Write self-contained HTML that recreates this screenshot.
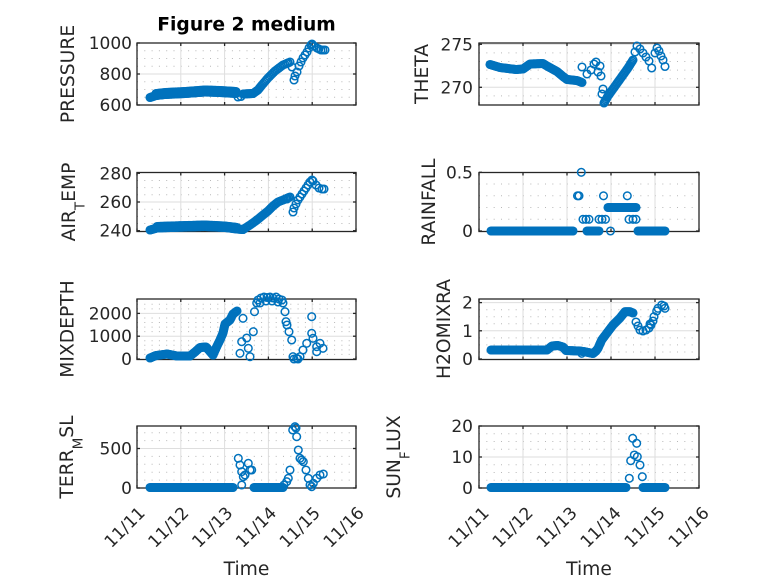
<!DOCTYPE html>
<html><head><meta charset="utf-8">
<style>
html,body{margin:0;padding:0;background:#fff;}
svg{display:block;}
text{font-family:"DejaVu Sans","Liberation Sans",sans-serif;fill:#262626;}
.tk{font-size:17px;}
.lb{font-size:18.7px;}
.sb{font-size:13.5px;}
</style></head><body>
<svg id="s" width="778" height="583" viewBox="0 0 778 583" xmlns="http://www.w3.org/2000/svg">
<rect width="778" height="583" fill="#fff"/>
<g id="grid"></g>
<g id="box" fill="none" stroke="#262626" stroke-width="1.3"></g>
<g id="data" fill="none" stroke="#0072BD" stroke-width="1.5"></g>

<text x="246.5" y="30.5" text-anchor="middle" style="font-size:18.7px;font-weight:bold;fill:#000">Figure 2 medium</text>

<!-- y tick labels -->
<g class="tk" text-anchor="end">
<text x="132" y="49">1000</text><text x="132" y="80">800</text><text x="132" y="111">600</text>
<text x="132" y="179.3">280</text><text x="132" y="208">260</text><text x="132" y="236.7">240</text>
<text x="132" y="319.4">2000</text><text x="132" y="342.2">1000</text><text x="132" y="365">0</text>
<text x="132" y="454.5">500</text><text x="132" y="494">0</text>
<text x="473" y="50.3">275</text><text x="473" y="93.3">270</text>
<text x="473" y="178.3">0.5</text><text x="473" y="237">0</text>
<text x="473" y="308.6">2</text><text x="473" y="336.8">1</text><text x="473" y="365">0</text>
<text x="473" y="432">20</text><text x="473" y="463">10</text><text x="473" y="494">0</text>
</g>

<!-- x tick labels -->
<g class="tk" text-anchor="end">
<text transform="translate(146,514) rotate(-45)">11/11</text>
<text transform="translate(189.8,514) rotate(-45)">11/12</text>
<text transform="translate(233.6,514) rotate(-45)">11/13</text>
<text transform="translate(277.4,514) rotate(-45)">11/14</text>
<text transform="translate(321.2,514) rotate(-45)">11/15</text>
<text transform="translate(365,514) rotate(-45)">11/16</text>
<text transform="translate(490,514) rotate(-45)">11/11</text>
<text transform="translate(534,514) rotate(-45)">11/12</text>
<text transform="translate(578,514) rotate(-45)">11/13</text>
<text transform="translate(622,514) rotate(-45)">11/14</text>
<text transform="translate(666,514) rotate(-45)">11/15</text>
<text transform="translate(710,514) rotate(-45)">11/16</text>
</g>

<!-- axis labels -->
<g class="lb" text-anchor="middle">
<text x="246.5" y="575">Time</text>
<text x="589" y="575">Time</text>
<text transform="translate(74,74) rotate(-90)">PRESSURE</text>
<text transform="translate(75,202) rotate(-90)">AIR<tspan class="sb" dy="9.5">T</tspan><tspan dy="-9.5">EMP</tspan></text>
<text transform="translate(73.5,329) rotate(-90)">MIXDEPTH</text>
<text transform="translate(73,457) rotate(-90)">TERR<tspan class="sb" dy="9.5">M</tspan><tspan dy="-9.5">SL</tspan></text>
<text transform="translate(428,74) rotate(-90)">THETA</text>
<text transform="translate(435,202) rotate(-90)">RAINFALL</text>
<text transform="translate(450,329) rotate(-90)">H2OMIXRA</text>
<text transform="translate(400,457) rotate(-90)">SUN<tspan class="sb" dy="9.5">F</tspan><tspan dy="-9.5">LUX</tspan></text>
</g>
</svg>
<script>
(function(){
var NS="http://www.w3.org/2000/svg";
var G=document.getElementById('grid'),B=document.getElementById('box'),D=document.getElementById('data');
function el(p,tag,a){var e=document.createElementNS(NS,tag);for(var k in a)e.setAttribute(k,a[k]);p.appendChild(e);return e;}
var P=[
 {x0:137,x1:356,y0:43,y1:105,yt:[43,74,105],ym:[50.75,58.5,66.25,81.75,89.5,97.25]},
 {x0:479,x1:699,y0:43,y1:105,yt:[44.3,87.3],ym:[52.9,61.5,70.1,78.7,95.9]},
 {x0:137,x1:356,y0:172.5,y1:231.5,yt:[173.3,202,230.7],ym:[180.5,187.65,194.8,209.2,216.35,223.5]},
 {x0:479,x1:699,y0:172.5,y1:231.5,yt:[172.3,231],ym:[184,195.8,207.5,219.3]},
 {x0:137,x1:356,y0:299,y1:359.5,yt:[313.4,336.2,359],ym:[354.4,349.9,345.3,340.8,331.6,327.1,322.5,318,308.9,304.3]},
 {x0:479,x1:699,y0:299,y1:359.5,yt:[302.6,330.8,359],ym:[352,344.9,337.9,323.8,316.7,309.7]},
 {x0:137,x1:356,y0:426,y1:488,yt:[448.5,488],ym:[480.1,472.2,464.3,456.4,440.6,432.7]},
 {x0:479,x1:699,y0:426,y1:488,yt:[426,457,488],ym:[480.25,472.5,464.75,449.25,441.5,433.75]}
];
P.forEach(function(p){
 var w=p.x1-p.x0, step=w/5, per=step/6;
 p.ym.forEach(function(y){
  el(G,'line',{x1:p.x0,y1:y,x2:p.x1,y2:y,stroke:'#b8b8b8','stroke-width':1,'stroke-dasharray':'1 '+(per-1).toFixed(3)});
 });
 for(var i=1;i<5;i++){var x=p.x0+i*step;
  el(G,'line',{x1:x,y1:p.y0,x2:x,y2:p.y1,stroke:'#dedede','stroke-width':1});}
 p.yt.forEach(function(y){
  if(y>p.y0+1&&y<p.y1-1) el(G,'line',{x1:p.x0,y1:y,x2:p.x1,y2:y,stroke:'#dedede','stroke-width':1});
 });
 el(B,'rect',{x:p.x0,y:p.y0,width:w,height:p.y1-p.y0});
 for(var i=0;i<=5;i++){var x=p.x0+i*step;
  el(B,'line',{x1:x,y1:p.y1,x2:x,y2:p.y1-3});
  el(B,'line',{x1:x,y1:p.y0,x2:x,y2:p.y0+3});}
 p.yt.forEach(function(y){
  el(B,'line',{x1:p.x0,y1:y,x2:p.x0+3,y2:y});
  el(B,'line',{x1:p.x1,y1:y,x2:p.x1-3,y2:y});
 });
});
function c(x,y){el(D,'circle',{cx:x.toFixed(2),cy:y.toFixed(2),r:3.8});}
function L(pts,step){
 for(var i=0;i<pts.length-1;i++){
  var a=pts[i],b=pts[i+1],d=Math.hypot(b[0]-a[0],b[1]-a[1]),n=Math.max(1,Math.ceil(d/step));
  for(var k=0;k<n;k++){var t=k/n;c(a[0]+(b[0]-a[0])*t,a[1]+(b[1]-a[1])*t);}
 }
 var e=pts[pts.length-1];c(e[0],e[1]);
}
function S(a){for(var i=0;i<a.length;i+=2)c(a[i],a[i+1]);}

/* P1 PRESSURE */
L([[150,97.5],[156,95.5],[165,94.5],[185,93.5],[205,92],[220,92.5],[236,93.5]],1);
L([[156,93.5],[165,92.5],[185,91.5],[205,90],[220,90.5],[236,91.5]],1.2);
S([238,97,241,96.5]);
L([[243,94],[253,93.5]],1);
L([[253,93.5],[258,90],[262,85],[268,78],[275,71],[283,65],[290,62]],2);
S([288,63,292,67,294,80,295,76,297,72,299,66,301,62,303,58,305,55,307,52,309,48,311,45,312,44,314,46,317,48,319,49,321,50,323,50,325,50]);

/* P2 THETA */
L([[490,64.5],[500,67.5],[516,69.5],[523,69],[530,64],[543,63.5],[547,66],[557,71.5],[563,76.5],[567,79.5],[577,80.5],[582,82.5]],1.2);
S([582,67,587,74,591,70,594,64,598,72,601,76,600,66,596,62,602,94,603,89]);
L([[604,103],[608,96],[613,89],[618,82],[623,75],[628,68],[633,60]],1.8);
S([635,52,637,46,640,49,643,53,646,57,649,61,651.7,68,655,53,657,48,659,51,661,56,663,60,665,66.5]);

/* P3 AIR_TEMP */
L([[150,230],[157,228],[170,227.5],[205,226.5],[225,227.5],[237,229],[243,229.5]],1);
L([[157,226.5],[170,226],[205,225],[225,226],[237,227.5]],1.2);
L([[243,229.5],[250,225],[257,220],[263,215],[268,211],[273,206],[278,202],[283,200],[290,197]],1.8);
S([287,199,293,212,294,208,296,204,298,200,300,197,302,194,304,191,306,188,308,185,310,182,312,180,313,181,316,185,319,188,322,189,324,189]);

/* P4 RAINFALL */
L([[491,231],[573,231]],1);
S([581.3,172.3,577.5,195.8,579,195.8,583,219.3,586,219.3,589,219.3]);
L([[587,231],[599,231]],1);
S([599,219.3,602,219.3,605.5,219.3,603.5,195.8,610.5,231]);
L([[608,207.5],[636,207.5]],1);
S([627.3,195.8,629,219.3,633,219.3,636,219.3]);
L([[638,231],[665,231]],1);

/* P5 MIXDEPTH */
L([[150,358],[156,355.5],[167,354],[177,356],[190,356],[195,352],[200,347.5],[206,347],[210,351.5],[213,355]],1);
L([[213,355],[216.7,346.7],[220,340],[223,333],[225,324],[230,320],[233,314],[237,311]],1.5);
S([241.7,341.7,240,353.3,243,318.3,246.7,338,248.3,348.3,250,356.7,253.3,331.7,254.5,311.7,256.7,303,
258,300,261,298,264,297,267,297.5,270,297,273,298,276,297,279,299,282,300,283,303,260,303,266,301,272,301,278,302,
285,311.7,286,321.7,287,325,289,331.7,291.7,340,293,356.7,296.7,358.3,300,356.7,303,350,306.7,343.3,311.7,316.7,311.7,333.3,313,338.3,316.7,346.7,316.7,351.7,320,343.3,323,348.3,298,359,294,359]);

/* P6 H2OMIXRA */
L([[491,350],[547,350],[552,346],[558,345.5],[563,347],[566,350.5],[580,351],[586,352],[593,353.5],[596,351]],1);
L([[596,351],[598,348.3],[601.7,340],[606.7,333.3],[613,325],[620,318],[625,311.7],[630,311.7],[633,313]],1.6);
S([581.7,353.3,636,322,638,326,640,330,643,331,646,330,649,328,651,325,653,321,654,316.7,656.7,311,658,308.3,661.7,305,664,306,665,308.3,650,324]);

/* P7 TERR_MSL */
L([[150,487.5],[233,487.5]],1);
S([238.3,458.3,240,465,241.7,471.7,243.3,476.7,245,475,248.3,463.3,250,470,251.7,470,241.7,485]);
L([[254,487.5],[283,487.5]],1);
S([286.7,481.7,288.3,478.3,290,470,292.7,430,295,426.7,296.7,436.7,298.3,450,300,458.3,301.7,460,303.3,461.7,306,470,308.3,478.3,310,485,311.7,486.7,313.3,483.3,316.7,478.3,320,475,323.3,474,284,485,296,428]);

/* P8 SUN_FLUX */
L([[491,487.5],[626,487.5]],1);
S([629.3,478.3,630.7,460.7,632.7,438.3,634.3,455,636.7,443.3,637.3,456.7,640,465,642.3,476.7]);
L([[643,487.5],[665,487.5]],1);
})();
</script>
</body></html>
